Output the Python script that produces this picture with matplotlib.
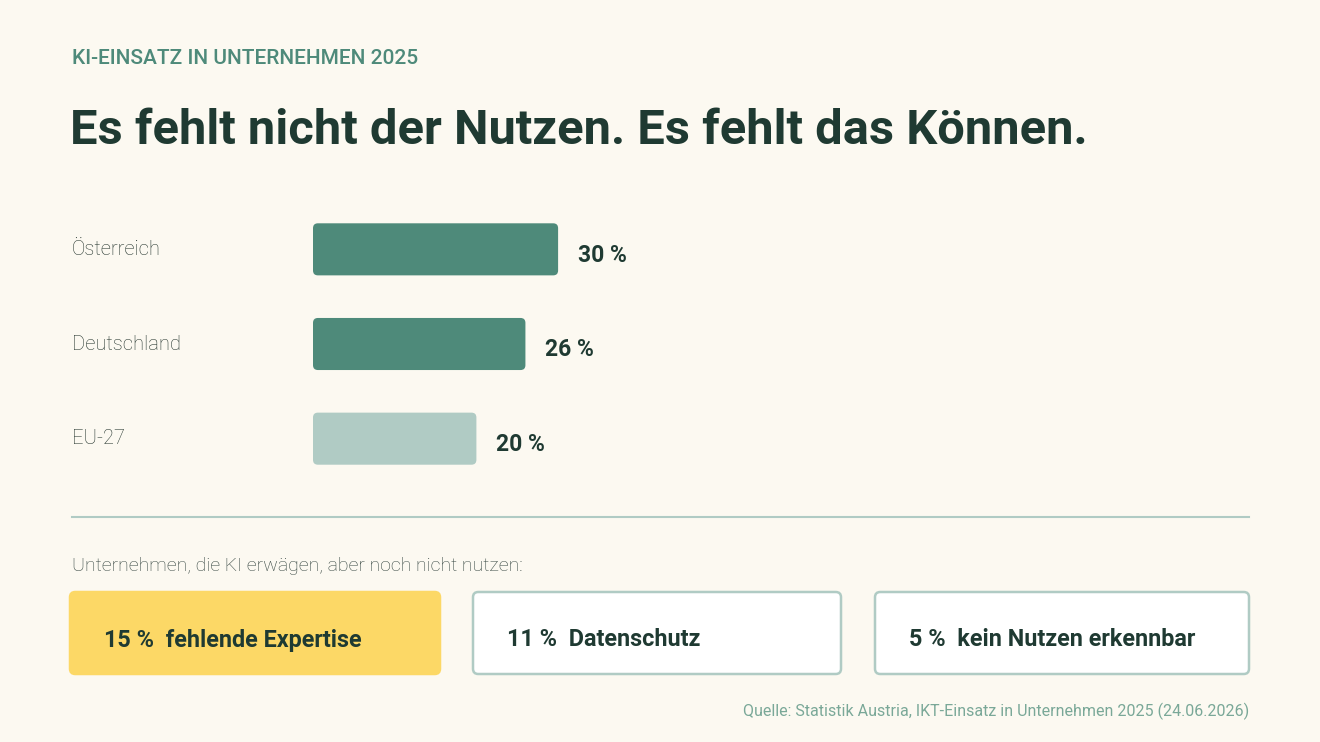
import matplotlib
matplotlib.use("Agg")
import matplotlib.pyplot as plt
from matplotlib.patches import FancyBboxPatch

# Daten
laender = ["Österreich", "Deutschland", "EU-27"]
anteile = [30, 26, 20]
farben = ["#4e8a7a", "#4e8a7a", "#b0cbc4"]

gruende = ["fehlende Expertise", "Datenschutz", "kein Nutzen erkennbar"]
gruende_werte = [15, 11, 5]

kicker = "KI-EINSATZ IN UNTERNEHMEN 2025"
titel = "Es fehlt nicht der Nutzen. Es fehlt das Können."
unterzeile = "Unternehmen, die KI erwägen, aber noch nicht nutzen:"
quelle = "Quelle: Statistik Austria, IKT-Einsatz in Unternehmen 2025 (24.06.2026)"

# Farben
bg = "#fcf9f1"
dunkel = "#1f3a32"
gruen = "#4e8a7a"
hell = "#b0cbc4"
gelb = "#fcd866"

W, H = 1320, 742
fig = plt.figure(figsize=(W / 100, H / 100), dpi=100, facecolor=bg)


def fx(px):
    return px / W


def fy(py):
    return 1 - py / H


fett = "Roboto"
leicht = "Roboto"

# Kopfzeile
fig.text(fx(72), fy(59), kicker, color=gruen, fontsize=15, family=fett,
         fontweight="medium", va="center", ha="left")
fig.text(fx(70), fy(131), titel, color=dunkel, fontsize=35.2, family=fett,
         fontweight="bold", va="center", ha="left")

# Balkendiagramm
ax = fig.add_axes([fx(313), fy(486), fx(1250) - fx(313), (486 - 202) / H])
ax.set_facecolor("none")
bars = ax.barh(range(len(laender)), anteile, height=0.55, color=farben)
ax.set_ylim(len(laender) - 0.5, -0.5)
px_pro_einheit = 8.17
ax.set_xlim(0, (1250 - 313) / px_pro_einheit)
for s in ax.spines.values():
    s.set_visible(False)
ax.set_xticks([])
ax.set_yticks([])

y_einheit = (486 - 202) / len(laender)
aspekt = px_pro_einheit / y_einheit
for b, f in zip(bars, farben):
    b.set_visible(False)
    r = FancyBboxPatch((b.get_x(), b.get_y()), b.get_width(), b.get_height(),
                       boxstyle="round,pad=0,rounding_size=0.6",
                       mutation_aspect=aspekt, facecolor=f, edgecolor="none")
    ax.add_patch(r)

for i, (land, wert) in enumerate(zip(laender, anteile)):
    ax.annotate(f"{wert} %", (wert, i), xytext=(20, -6), textcoords="offset pixels",
                color=dunkel, fontsize=16.5, family=fett, fontweight="bold",
                va="center", ha="left")
    ax.annotate(land, (0, i), xycoords=("axes fraction", "data"),
                xytext=(72 - 313, 0), textcoords="offset pixels",
                color="#26362f", fontsize=14.5, family=leicht, fontweight="light",
                va="center", ha="left")

# Trennlinie
fig.add_artist(plt.Line2D([fx(72), fx(1249)], [fy(517), fy(517)],
                          color=hell, lw=1.5))

fig.text(fx(72), fy(566), unterzeile, color="#34443f", fontsize=14,
         family=leicht, fontweight="light", va="center", ha="left")

# Kästen
kasten_x = [(70, 440), (473, 841), (875, 1249)]
for j, ((x0, x1), grund, wert) in enumerate(zip(kasten_x, gruende, gruende_werte)):
    if j == 0:
        fc, ec = gelb, gelb
    else:
        fc, ec = "#ffffff", hell
    k = FancyBboxPatch((fx(x0), fy(674)), fx(x1) - fx(x0), fy(592) - fy(674),
                       boxstyle="round,pad=0,rounding_size=0.004",
                       mutation_aspect=W / H, transform=fig.transFigure,
                       facecolor=fc, edgecolor=ec, lw=1.8)
    fig.add_artist(k)
    fig.text(fx(x0 + 34), fy(640), f"{wert} %  {grund}", color=dunkel,
             fontsize=16.8, family=fett, fontweight="bold",
             va="center", ha="left")

fig.text(fx(1249), fy(711), quelle, color="#7aa898", fontsize=11.5,
         family=leicht, fontweight="normal", va="center", ha="right")

fig.savefig("out.png", dpi=100, facecolor=bg)
